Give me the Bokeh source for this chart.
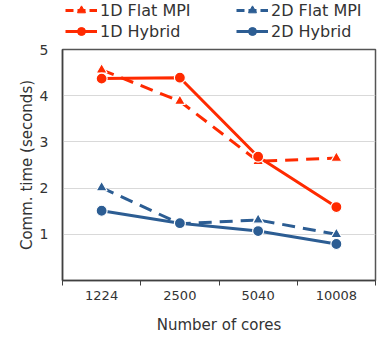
from bokeh.plotting import figure
from bokeh.layouts import column
from bokeh.models import Range1d, FixedTicker, Legend, LegendItem, ColumnDataSource
from bokeh.embed import file_html
from bokeh.resources import INLINE

cores = ["1224", "2500", "5040", "10008"]
flat_1d = [4.56, 3.88, 2.58, 2.65]
hybrid_1d = [4.37, 4.39, 2.68, 1.59]
flat_2d = [2.01, 1.23, 1.31, 1.00]
hybrid_2d = [1.51, 1.24, 1.07, 0.79]
y_ticks = [1, 2, 3, 4, 5]

RED = "#ff2a00"
BLUE = "#2c5d93"
FONT = "DejaVu Sans"

xs = [i + 0.5 for i in range(len(cores))]

W = 380
LH = 41
H = 336 - LH
BL, BR, BT, BB = 62, 5, 8, 54

series = [
    ("1D Flat MPI", flat_1d, RED, "13 8", "triangle"),
    ("2D Flat MPI", flat_2d, BLUE, "13 8", "triangle"),
    ("1D Hybrid", hybrid_1d, RED, "solid", "circle"),
    ("2D Hybrid", hybrid_2d, BLUE, "solid", "circle"),
]

# legend strip
lf = figure(width=W, height=LH, output_backend="svg", toolbar_location=None,
            x_range=Range1d(0, 1), y_range=Range1d(0, 1),
            x_axis_location=None, y_axis_location=None,
            min_border=0, min_border_left=0, min_border_right=0,
            min_border_top=0, min_border_bottom=0)
lf.outline_line_color = None
lf.grid.visible = False

# main plot
p = figure(width=W, height=H, output_backend="svg", toolbar_location=None,
           x_range=Range1d(0, len(cores)), y_range=Range1d(0, 5),
           min_border_left=BL, min_border_right=BR, min_border_bottom=BB, min_border_top=BT)

items = {}
for name, ys, col, dash, mk in series:
    src = ColumnDataSource(dict(x=xs, y=ys))
    p.line("x", "y", source=src, line_color=col, line_width=3, line_dash=dash)
    p.scatter("x", "y", source=src, marker=mk, size=11, fill_color=col,
              line_color="white", line_width=1.2)
    lsrc = ColumnDataSource(dict(x=[float("nan")], y=[float("nan")]))
    ll = lf.line("x", "y", source=lsrc, line_color=col, line_width=3,
                 line_dash="8 4" if dash != "solid" else "solid")
    ls = lf.scatter("x", "y", source=lsrc, marker=mk, size=8, fill_color=col, line_color=col)
    items[name] = LegendItem(label=name, renderers=[ll, ls])

legend = Legend(items=[items[n] for n in ["1D Flat MPI", "2D Flat MPI", "1D Hybrid", "2D Hybrid"]],
                orientation="horizontal", ncols=2,
                glyph_width=32, glyph_height=20, label_height=20, label_width=135,
                label_standoff=3, spacing=1, padding=0, margin=0,
                border_line_alpha=0, background_fill_alpha=0,
                label_text_font=FONT, label_text_font_size="16px",
                label_text_color="#333333", location=(3, 0))
lf.add_layout(legend, "center")

p.xaxis.ticker = FixedTicker(ticks=xs, minor_ticks=list(range(len(cores) + 1)))
p.xaxis.major_label_overrides = {x: c for x, c in zip(xs, cores)}
p.xaxis.major_tick_out = 0
p.xaxis.major_tick_in = 0
p.xaxis.minor_tick_out = 5
p.xaxis.minor_tick_in = 0
p.xaxis.axis_label = "Number of cores"
p.xaxis.axis_label_standoff = 13

p.yaxis.ticker = FixedTicker(ticks=y_ticks)
p.yaxis.major_tick_out = 0
p.yaxis.major_tick_in = 0
p.yaxis.minor_tick_out = 0
p.yaxis.minor_tick_in = 0
p.yaxis.axis_label = "Comm. time (seconds)"
p.yaxis.axis_label_standoff = 1

for ax in (p.xaxis[0], p.yaxis[0]):
    ax.axis_line_color = "#404040"
    ax.axis_line_width = 1.5
    ax.major_label_text_font = FONT
    ax.major_label_text_font_size = "13px"
    ax.major_label_text_color = "#333333"
    ax.axis_label_text_font = FONT
    ax.axis_label_text_font_size = "15px"
    ax.axis_label_text_font_style = "normal"
    ax.axis_label_text_color = "#333333"
    ax.minor_tick_line_color = "#404040"
p.yaxis.major_label_text_font_size = "14px"
p.yaxis.major_label_standoff = 14

p.xgrid.grid_line_color = None
p.ygrid.grid_line_color = "#d9d9d9"
p.ygrid.grid_line_width = 1.2
p.outline_line_color = "#555555"
p.outline_line_width = 1.5

layout = column(lf, p, spacing=0)
open("out.html", "w").write(file_html(layout, INLINE))
